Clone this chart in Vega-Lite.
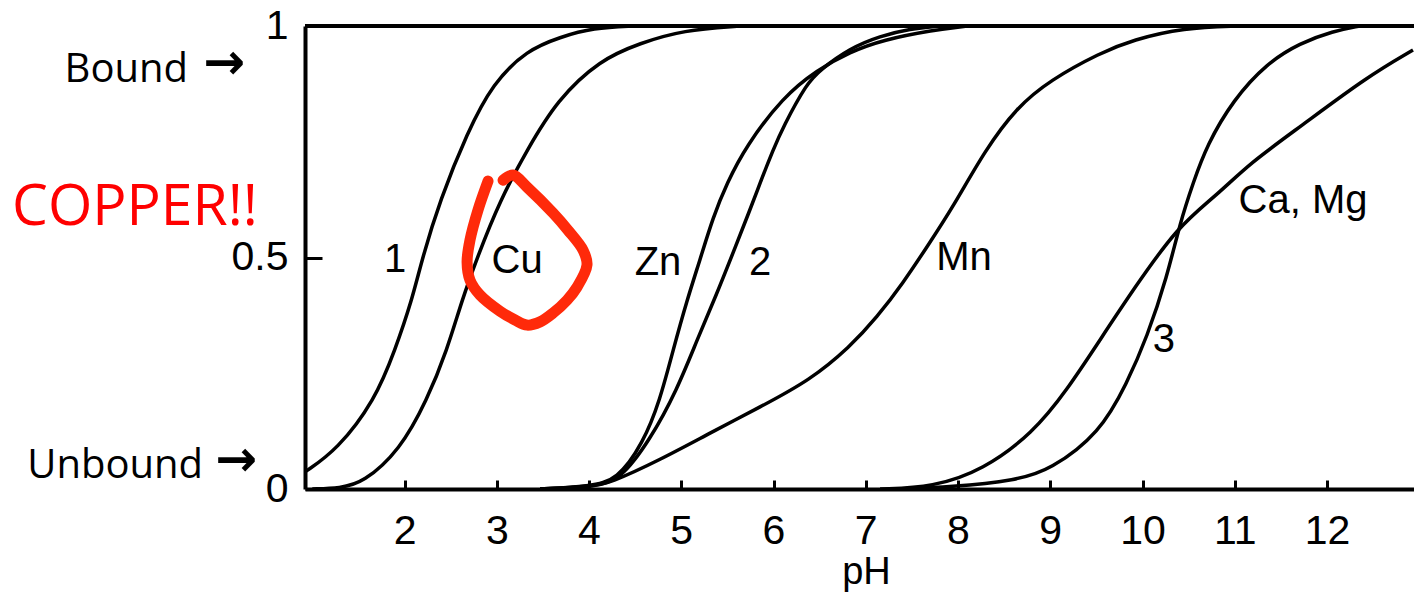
{
  "$schema": "https://vega.github.io/schema/vega-lite/v6.json",
  "width": 1109,
  "height": 463,
  "autosize": "none",
  "padding": {"left": 305, "top": 26, "right": 0, "bottom": 103},
  "background": "white",
  "config": {
    "view": {"stroke": null},
    "axis": {"grid": false, "domainColor": "black", "domainWidth": 4, "tickColor": "black", "tickWidth": 3, "labelColor": "black", "labelFont": "Liberation Sans", "labelFontSize": 41, "titleColor": "black", "titleFont": "Liberation Sans", "titleFontWeight": "normal"}
  },
  "datasets": {
    "curves": [
      {"c": "1", "pH": 0.921, "f": 0.037}, {"c": "1", "pH": 1.268, "f": 0.084}, {"c": "1", "pH": 1.68, "f": 0.192}, {"c": "1", "pH": 1.897, "f": 0.3}, {"c": "1", "pH": 2.081, "f": 0.408}, {"c": "1", "pH": 2.19, "f": 0.497}, {"c": "1", "pH": 2.385, "f": 0.624}, {"c": "1", "pH": 2.678, "f": 0.769}, {"c": "1", "pH": 2.959, "f": 0.877}, {"c": "1", "pH": 3.328, "f": 0.948}, {"c": "1", "pH": 3.686, "f": 0.976}, {"c": "1", "pH": 4.043, "f": 0.996}, {"c": "1", "pH": 4.5, "f": 1.0},
      {"c": "Cu", "pH": 1.0, "f": 0.0}, {"c": "Cu", "pH": 1.301, "f": 0.002}, {"c": "Cu", "pH": 1.55, "f": 0.013}, {"c": "Cu", "pH": 1.951, "f": 0.084}, {"c": "Cu", "pH": 2.244, "f": 0.192}, {"c": "Cu", "pH": 2.461, "f": 0.3}, {"c": "Cu", "pH": 2.623, "f": 0.408}, {"c": "Cu", "pH": 2.786, "f": 0.499}, {"c": "Cu", "pH": 3.035, "f": 0.624}, {"c": "Cu", "pH": 3.328, "f": 0.732}, {"c": "Cu", "pH": 3.653, "f": 0.84}, {"c": "Cu", "pH": 4.119, "f": 0.927}, {"c": "Cu", "pH": 4.553, "f": 0.963}, {"c": "Cu", "pH": 5.019, "f": 0.991}, {"c": "Cu", "pH": 5.637, "f": 1.0},
      {"c": "Zn", "pH": 3.469, "f": 0.0}, {"c": "Zn", "pH": 4.011, "f": 0.006}, {"c": "Zn", "pH": 4.304, "f": 0.019}, {"c": "Zn", "pH": 4.586, "f": 0.099}, {"c": "Zn", "pH": 4.77, "f": 0.192}, {"c": "Zn", "pH": 4.911, "f": 0.3}, {"c": "Zn", "pH": 5.062, "f": 0.408}, {"c": "Zn", "pH": 5.203, "f": 0.495}, {"c": "Zn", "pH": 5.344, "f": 0.587}, {"c": "Zn", "pH": 5.496, "f": 0.661}, {"c": "Zn", "pH": 5.7, "f": 0.74}, {"c": "Zn", "pH": 6.103, "f": 0.847}, {"c": "Zn", "pH": 6.472, "f": 0.905}, {"c": "Zn", "pH": 6.829, "f": 0.944}, {"c": "Zn", "pH": 7.187, "f": 0.97}, {"c": "Zn", "pH": 7.729, "f": 0.991}, {"c": "Zn", "pH": 8.1, "f": 1.0},
      {"c": "2", "pH": 3.469, "f": 0.0}, {"c": "2", "pH": 4.065, "f": 0.006}, {"c": "2", "pH": 4.336, "f": 0.019}, {"c": "2", "pH": 4.661, "f": 0.106}, {"c": "2", "pH": 4.954, "f": 0.214}, {"c": "2", "pH": 5.171, "f": 0.322}, {"c": "2", "pH": 5.388, "f": 0.423}, {"c": "2", "pH": 5.561, "f": 0.51}, {"c": "2", "pH": 5.745, "f": 0.603}, {"c": "2", "pH": 5.854, "f": 0.661}, {"c": "2", "pH": 5.995, "f": 0.732}, {"c": "2", "pH": 6.103, "f": 0.782}, {"c": "2", "pH": 6.363, "f": 0.877}, {"c": "2", "pH": 6.504, "f": 0.905}, {"c": "2", "pH": 6.829, "f": 0.952}, {"c": "2", "pH": 7.154, "f": 0.978}, {"c": "2", "pH": 7.48, "f": 0.994}, {"c": "2", "pH": 7.805, "f": 1.0},
      {"c": "Mn", "pH": 3.469, "f": 0.0}, {"c": "Mn", "pH": 4.011, "f": 0.004}, {"c": "Mn", "pH": 4.228, "f": 0.013}, {"c": "Mn", "pH": 4.77, "f": 0.063}, {"c": "Mn", "pH": 5.312, "f": 0.121}, {"c": "Mn", "pH": 5.854, "f": 0.177}, {"c": "Mn", "pH": 6.396, "f": 0.235}, {"c": "Mn", "pH": 6.829, "f": 0.307}, {"c": "Mn", "pH": 7.122, "f": 0.371}, {"c": "Mn", "pH": 7.404, "f": 0.445}, {"c": "Mn", "pH": 7.664, "f": 0.523}, {"c": "Mn", "pH": 7.946, "f": 0.609}, {"c": "Mn", "pH": 8.293, "f": 0.732}, {"c": "Mn", "pH": 8.64, "f": 0.825}, {"c": "Mn", "pH": 8.998, "f": 0.883}, {"c": "Mn", "pH": 9.54, "f": 0.942}, {"c": "Mn", "pH": 9.897, "f": 0.97}, {"c": "Mn", "pH": 10.439, "f": 0.996}, {"c": "Mn", "pH": 11.06, "f": 1.0},
      {"c": "Ca, Mg", "pH": 7.155, "f": 0.0}, {"c": "Ca, Mg", "pH": 7.729, "f": 0.004}, {"c": "Ca, Mg", "pH": 8.271, "f": 0.041}, {"c": "Ca, Mg", "pH": 8.813, "f": 0.121}, {"c": "Ca, Mg", "pH": 9.182, "f": 0.214}, {"c": "Ca, Mg", "pH": 9.539, "f": 0.322}, {"c": "Ca, Mg", "pH": 9.897, "f": 0.43}, {"c": "Ca, Mg", "pH": 10.385, "f": 0.568}, {"c": "Ca, Mg", "pH": 10.808, "f": 0.635}, {"c": "Ca, Mg", "pH": 11.165, "f": 0.704}, {"c": "Ca, Mg", "pH": 11.707, "f": 0.782}, {"c": "Ca, Mg", "pH": 12.434, "f": 0.89}, {"c": "Ca, Mg", "pH": 12.932, "f": 0.948},
      {"c": "3", "pH": 7.372, "f": 0.0}, {"c": "3", "pH": 7.913, "f": 0.004}, {"c": "3", "pH": 8.64, "f": 0.019}, {"c": "3", "pH": 8.998, "f": 0.041}, {"c": "3", "pH": 9.539, "f": 0.121}, {"c": "3", "pH": 9.832, "f": 0.229}, {"c": "3", "pH": 10.049, "f": 0.328}, {"c": "3", "pH": 10.266, "f": 0.458}, {"c": "3", "pH": 10.407, "f": 0.575}, {"c": "3", "pH": 10.548, "f": 0.661}, {"c": "3", "pH": 10.699, "f": 0.743}, {"c": "3", "pH": 10.981, "f": 0.84}, {"c": "3", "pH": 11.35, "f": 0.92}, {"c": "3", "pH": 11.707, "f": 0.963}, {"c": "3", "pH": 12.065, "f": 0.989}, {"c": "3", "pH": 12.358, "f": 1.0}
    ],
    "loop": [
      {"i": 1, "pH": 2.905, "f": 0.665}, {"i": 2, "pH": 2.797, "f": 0.603}, {"i": 3, "pH": 2.71, "f": 0.538}, {"i": 4, "pH": 2.678, "f": 0.49}, {"i": 5, "pH": 2.71, "f": 0.451}, {"i": 6, "pH": 2.818, "f": 0.419}, {"i": 7, "pH": 3.035, "f": 0.384}, {"i": 8, "pH": 3.198, "f": 0.365}, {"i": 9, "pH": 3.328, "f": 0.354}, {"i": 10, "pH": 3.469, "f": 0.361}, {"i": 11, "pH": 3.61, "f": 0.38}, {"i": 12, "pH": 3.762, "f": 0.408}, {"i": 13, "pH": 3.87, "f": 0.436}, {"i": 14, "pH": 3.978, "f": 0.484}, {"i": 15, "pH": 3.935, "f": 0.516}, {"i": 16, "pH": 3.772, "f": 0.559}, {"i": 17, "pH": 3.61, "f": 0.596}, {"i": 18, "pH": 3.328, "f": 0.652}, {"i": 19, "pH": 3.176, "f": 0.678}, {"i": 20, "pH": 3.068, "f": 0.667}
    ],
    "labels": [
      {"t": "1", "pH": 1.897, "f": 0.469},
      {"t": "Cu", "pH": 3.22, "f": 0.467},
      {"t": "Zn", "pH": 4.748, "f": 0.462},
      {"t": "2", "pH": 5.854, "f": 0.462},
      {"t": "Mn", "pH": 8.065, "f": 0.473},
      {"t": "3", "pH": 10.232, "f": 0.296},
      {"t": "Ca, Mg", "pH": 11.74, "f": 0.596}
    ],
    "notes": [
      {"t": "Bound", "pH": -0.347, "f": 0.879},
      {"t": "Unbound", "pH": -0.184, "f": 0.024}
    ],
    "arrows": [
      {"t": "→", "pH": 0.044, "f": 0.886},
      {"t": "→", "pH": 0.174, "f": 0.028}
    ],
    "shout": [
      {"t": "COPPER!!", "pH": -2.255, "f": 0.57}
    ]
  },
  "layer": [
    {
      "data": {"name": "curves"},
      "mark": {"type": "line", "color": "black", "strokeWidth": 3.5, "interpolate": "basis"},
      "encoding": {
        "x": {"field": "pH", "type": "quantitative", "scale": {"domain": [0.921, 12.943], "nice": false, "zero": false},
          "axis": {"values": [2, 3, 4, 5, 6, 7, 8, 9, 10, 11, 12], "format": "d", "tickSize": -9, "labelPadding": 31, "title": "pH", "titleFontSize": 38, "titleX": 561, "titleY": 94, "titleBaseline": "alphabetic", "titleAlign": "center", "labelFlush": false}},
        "y": {"field": "f", "type": "quantitative", "scale": {"domain": [0, 1], "nice": false},
          "axis": {"values": [0, 0.5, 1], "format": "~g", "tickSize": -17, "labelPadding": 34, "title": null}},
        "detail": {"field": "c", "type": "nominal"}
      }
    },
    {
      "data": {"name": "curves"},
      "mark": {"type": "rule", "color": "black", "strokeWidth": 4},
      "encoding": {"y": {"datum": 1}}
    },
    {
      "data": {"name": "loop"},
      "mark": {"type": "line", "color": "#ff2a0a", "strokeWidth": 11, "strokeCap": "round", "strokeJoin": "round", "interpolate": "catmull-rom"},
      "encoding": {
        "x": {"field": "pH", "type": "quantitative"},
        "y": {"field": "f", "type": "quantitative"},
        "order": {"field": "i", "type": "quantitative"}
      }
    },
    {
      "data": {"name": "labels"},
      "mark": {"type": "text", "font": "Liberation Sans", "fontSize": 40, "color": "black", "baseline": "alphabetic", "align": "center"},
      "encoding": {
        "x": {"field": "pH", "type": "quantitative"},
        "y": {"field": "f", "type": "quantitative"},
        "text": {"field": "t"}
      }
    },
    {
      "data": {"name": "notes"},
      "mark": {"type": "text", "font": "Open Sans", "fontSize": 40, "color": "black", "baseline": "alphabetic", "align": "right"},
      "encoding": {
        "x": {"field": "pH", "type": "quantitative"},
        "y": {"field": "f", "type": "quantitative"},
        "text": {"field": "t"}
      }
    },
    {
      "data": {"name": "arrows"},
      "mark": {"type": "text", "font": "DejaVu Sans", "fontSize": 50, "fontWeight": "bold", "color": "black", "baseline": "alphabetic", "align": "center"},
      "encoding": {
        "x": {"field": "pH", "type": "quantitative"},
        "y": {"field": "f", "type": "quantitative"},
        "text": {"field": "t"}
      }
    },
    {
      "data": {"name": "shout"},
      "mark": {"type": "text", "font": "Open Sans", "fontSize": 57, "color": "#ff0000", "baseline": "alphabetic", "align": "left"},
      "encoding": {
        "x": {"field": "pH", "type": "quantitative"},
        "y": {"field": "f", "type": "quantitative"},
        "text": {"field": "t"}
      }
    }
  ]
}
